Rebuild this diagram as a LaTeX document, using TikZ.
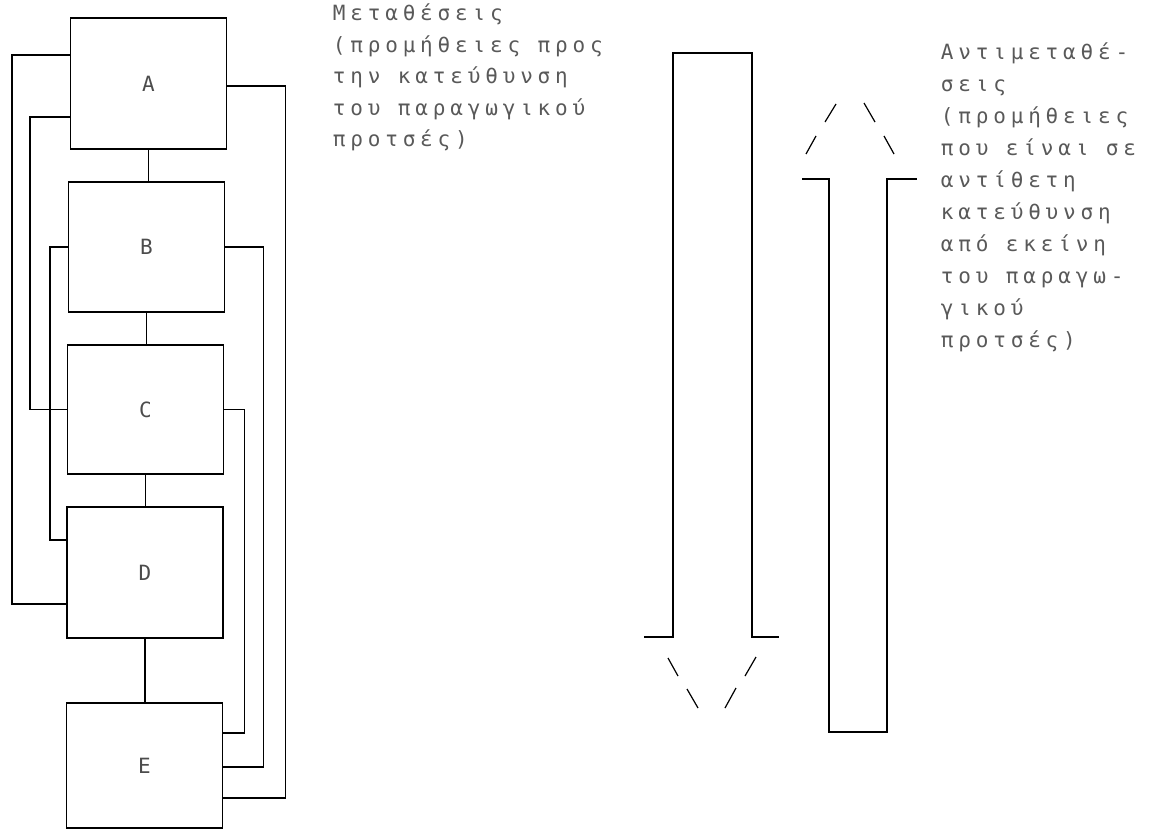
\documentclass[tikz,border=0pt]{standalone}
\usepackage{fontspec}
\newfontfamily\plotfont[LetterSpace=23]{DejaVu Sans Mono}
\begin{document}
\begin{tikzpicture}[x=1pt,y=-1pt,line width=1.8pt,
  blok/.style={draw,minimum width=156pt,inner sep=0pt,font=\fontsize{21}{25}\plotfont,text=black!70},
  txt/.style={font=\fontsize{21}{31.5}\plotfont,text=black!65,align=left,anchor=north west,inner sep=0pt},
  tip/.style={line width=1.2pt}]
\useasboundingbox (0,0) rectangle (1174,830);

% Blocks
\foreach \n/\x/\y/\h in {A/148.5/83.5/131,B/146.5/247/130,C/145.5/409.5/129,D/145/572.5/131,E/144.5/765.5/125}
  \node[blok,minimum height=\h pt] (\n) at (\x,\y) {\n};

% Chain
\foreach \a/\b in {A/B,B/C,C/D,D/E}
  \draw (\a.south) -- (\a.south |- \b.north);

% Feedback, left side
\draw ([yshift=28.5pt]A.west) -- ++(-58,0) |- ([yshift=-31.5pt]D.west);
\draw ([yshift=-33.5pt]A.west) -- ++(-40,0) |- (C.west);
\draw (B.west) -- ++(-18,0) |- ([yshift=32.5pt]D.west);

% Feedback, right side
\draw ([yshift=-2.5pt]A.east) -- ++(58,0) |- ([yshift=-32.5pt]E.east);
\draw (B.east) -- ++(38,0) |- ([yshift=-1.5pt]E.east);
\draw (C.east) -- ++(20,0) |- ([yshift=32.5pt]E.east);

% Down arrow
\draw (644,637) -- (673,637) -- (673,53) -- (752,53) -- (752,637) -- (779,637);
\draw[tip] (668,658) -- (678,676) (687,689) -- (698,708)
           (756,657) -- (745,676) (736,688) -- (725,708);

% Up arrow
\draw (802,179) -- (829,179) -- (829,732) -- (887,732) -- (887,179) -- (917,179);
\draw[tip] (836,104) -- (825,122) (816,136) -- (806,154)
           (864,103) -- (875,122) (884,136) -- (894,154);

% Labels
\node[txt] (metath) at (332,3) {Μεταθέσεις\\(προμήθειες προς\\την κατεύθυνση\\του παραγωγικού\\προτσές)};
\node[txt,font=\fontsize{21}{32}\plotfont] (antimetath) at (940,42) {Αντιμεταθέ-\\σεις\\(προμήθειες\\που είναι σε\\αντίθετη\\κατεύθυνση\\από εκείνη\\του παραγω-\\γικού\\προτσές)};

\end{tikzpicture}
\end{document}
